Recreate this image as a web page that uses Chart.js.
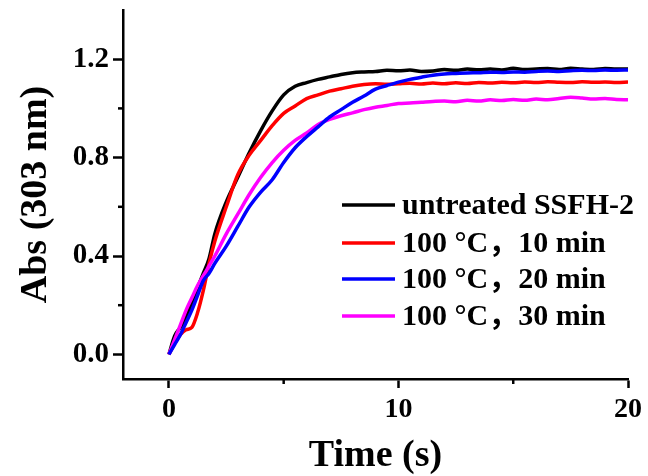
<!DOCTYPE html>
<html><head><meta charset="utf-8">
<script src="https://cdn.jsdelivr.net/npm/chart.js@4/dist/chart.umd.min.js"></script>
<style>html,body{margin:0;padding:0;background:#fff}#wrap{width:648px;height:476px}</style>
</head><body><div id="wrap"><canvas id="c" width="648" height="476"></canvas></div>
<script>
const time = [0,0.25,0.5,0.75,1,1.25,1.5,1.75,2,2.5,3,3.5,4,4.5,5,5.5,6,6.5,7,7.5,8,8.5,9,9.5,10,10.5,11,11.5,12,12.5,13,13.5,14,14.5,15,15.5,16,16.5,17,17.5,18,18.5,19,19.5,20];
const untreated = [0,0.075,0.11,0.15,0.21,0.27,0.33,0.39,0.49,0.62,0.72,0.82,0.91,0.99,1.055,1.09,1.105,1.118,1.128,1.138,1.145,1.148,1.15,1.155,1.153,1.156,1.15,1.152,1.158,1.155,1.16,1.157,1.16,1.156,1.163,1.158,1.16,1.162,1.158,1.163,1.16,1.158,1.162,1.16,1.16];
const t10 = [0,0.045,0.08,0.10,0.11,0.17,0.26,0.37,0.46,0.60,0.73,0.81,0.87,0.93,0.98,1.01,1.04,1.055,1.07,1.08,1.09,1.097,1.10,1.098,1.10,1.102,1.099,1.103,1.10,1.104,1.101,1.105,1.103,1.106,1.104,1.107,1.105,1.108,1.106,1.105,1.108,1.106,1.107,1.105,1.107];
const t20 = [0,0.04,0.08,0.13,0.18,0.24,0.30,0.33,0.37,0.44,0.52,0.60,0.66,0.71,0.78,0.84,0.885,0.925,0.965,0.995,1.025,1.05,1.078,1.093,1.107,1.118,1.127,1.135,1.14,1.142,1.144,1.145,1.147,1.146,1.148,1.147,1.15,1.152,1.15,1.153,1.155,1.154,1.156,1.155,1.156];
const t30 = [0,0.06,0.12,0.18,0.23,0.28,0.32,0.36,0.40,0.49,0.57,0.65,0.72,0.78,0.83,0.87,0.90,0.935,0.955,0.97,0.982,0.995,1.005,1.012,1.02,1.022,1.025,1.028,1.03,1.027,1.033,1.03,1.035,1.032,1.036,1.033,1.038,1.035,1.04,1.045,1.042,1.038,1.04,1.036,1.035];
const seriesLabels = ['untreated SSFH-2','100 °C，10 min','100 °C，20 min','100 °C，30 min'];
const seriesColors = ['#000000','#ff0000','#0000ff','#ff00ff'];
const xTicks = [0,10,20];
const xMinor = [5,15];
const yTicks = [0,0.4,0.8,1.2];
const yMinor = [0.2,0.6,1.0];

const FONT = "'Liberation Serif','Times New Roman',serif";
const allSeries = [untreated,t10,t20,t30];
const datasets = allSeries.map((s,i)=>({
  label: seriesLabels[i],
  data: time.map((t,j)=>({x:t,y:s[j]})),
  borderColor: seriesColors[i],
  backgroundColor: seriesColors[i],
  borderWidth: 3.5,
  pointRadius: 0,
  cubicInterpolationMode: 'monotone',
  order: [4,3,1,2][i]
}));

const extras = {
  id:'extras',
  afterDraw(chart){
    const ctx = chart.ctx;
    const xs = chart.scales.x, ys = chart.scales.y;
    ctx.save();
    ctx.strokeStyle = '#000'; ctx.lineWidth = 2.5;
    yMinor.forEach(v=>{const p=ys.getPixelForValue(v);ctx.beginPath();ctx.moveTo(ys.right-5,p);ctx.lineTo(ys.right,p);ctx.stroke();});
    xMinor.forEach(v=>{const p=xs.getPixelForValue(v);ctx.beginPath();ctx.moveTo(p,xs.top);ctx.lineTo(p,xs.top+5);ctx.stroke();});
    // legend
    const rows = [205,243,279,316];
    ctx.font = "bold 30px 'Liberation Serif','Noto Sans CJK SC',serif";
    ctx.textBaseline = 'middle';
    ctx.textAlign = 'left';
    chart.data.datasets.forEach((d,i)=>{
      ctx.strokeStyle = d.borderColor; ctx.lineWidth = 3.5;
      ctx.beginPath(); ctx.moveTo(342,rows[i]); ctx.lineTo(395,rows[i]); ctx.stroke();
      ctx.fillStyle = '#000';
      ctx.fillText(d.label, 402, rows[i]+1);
    });
    ctx.restore();
  }
};

new Chart(document.getElementById('c'), {
  type:'line',
  data:{datasets},
  options:{
    responsive:false,
    animation:false,
    layout:{padding:{left:0,right:20,top:10,bottom:0}},
    plugins:{legend:{display:false},tooltip:{enabled:false}},
    scales:{
      x:{
        type:'linear', min:-2, max:20,
        afterBuildTicks:s=>{s.ticks = xTicks.map(v=>({value:v}));},
        afterFit:s=>{s.height = 97; s.paddingLeft = 0; s.paddingRight = 0;},
        ticks:{color:'#000',font:{family:FONT,size:28,weight:'bold'},padding:5,maxRotation:0,autoSkip:false,callback:v=>String(v)},
        grid:{drawOnChartArea:false,drawTicks:true,tickLength:9,tickWidth:2.5,tickColor:'#000'},
        border:{display:true,color:'#000',width:2.5},
        title:{display:true,text:'Time (s)',color:'#000',font:{family:FONT,size:38,weight:'bold',lineHeight:1},padding:{top:0,bottom:1}}
      },
      y:{
        type:'linear', min:-0.1, max:1.4,
        afterBuildTicks:s=>{s.ticks = yTicks.map(v=>({value:v}));},
        afterFit:s=>{s.width = 123; s.paddingTop = 0; s.paddingBottom = 0;},
        ticks:{color:'#000',font:{family:FONT,size:29,weight:'bold'},padding:4,autoSkip:false,callback:v=>Number(v).toFixed(1)},
        grid:{drawOnChartArea:false,drawTicks:true,tickLength:10,tickWidth:2.5,tickColor:'#000'},
        border:{display:true,color:'#000',width:2.5},
        title:{display:true,text:'Abs (303 nm)',color:'#000',font:{family:FONT,size:38,weight:'bold',lineHeight:1},padding:{top:17,bottom:0}}
      }
    }
  },
  plugins:[extras]
});
</script></body></html>
